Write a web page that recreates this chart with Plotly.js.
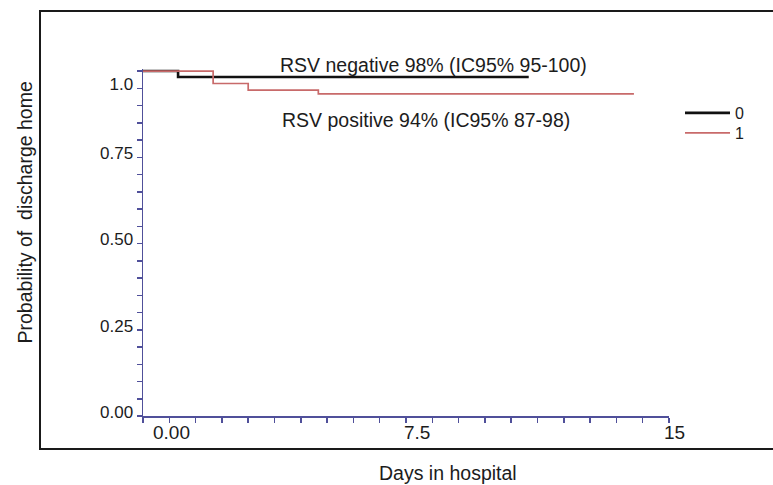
<!DOCTYPE html>
<html>
<head>
<meta charset="utf-8">
<script src="https://cdn.plot.ly/plotly-3.0.1.min.js"></script>
<style>html,body{margin:0;padding:0;background:#fff;}#chart{width:773px;height:485px;}</style>
</head>
<body>
<div id="chart"></div>
<script>
// ---- data ----
const group0Name = '0';                 // RSV negative
const group0Days = [0, 1, 11];
const group0Prob = [1.0, 0.983, 0.983];

const group1Name = '1';                 // RSV positive
const group1Days = [0, 2, 3, 5, 14];
const group1Prob = [1.0, 0.964, 0.945, 0.934, 0.934];

const yTickVals = [0, 0.25, 0.5, 0.75, 0.95];
const yTickText = ['0.00', '0.25', '0.50', '0.75', '1.0'];
const xTickVals = [0, 7.5, 15];
const xTickText = ['0.00', '7.5', '15'];

const noteNeg = 'RSV negative 98% (IC95% 95-100)';
const notePos = 'RSV positive 94% (IC95% 87-98)';
const xTitle = 'Days in hospital';
const yTitle = 'Probability of  discharge home';

// ---- layout / style ----
const W = 773, H = 485;
const M = {l: 143, r: 104, t: 69, b: 69};
const PW = W - M.l - M.r, PH = H - M.t - M.b;
const px = v => (v - M.l) / PW;          // pixel -> paper x
const py = v => (H - M.b - v) / PH;      // pixel -> paper y
const FONT = 'Arial, "Liberation Sans", sans-serif';
const TXT = '#1c1c1c';
const AXC = '#50509a';
const xLabelNudge = [28, 11, 5];

const traces = [
  {x: group0Days, y: group0Prob, name: group0Name, type: 'scatter', mode: 'lines', legend: 'legend',
   line: {shape: 'hv', color: '#111111', width: 2.6}},
  {x: group1Days, y: group1Prob, name: group1Name, type: 'scatter', mode: 'lines', legend: 'legend2',
   line: {shape: 'hv', color: '#c86a6a', width: 1.7}}
];

const noteFont = {family: FONT, size: 19.5, color: TXT};
const annotations = [
  {text: noteNeg, xref: 'paper', yref: 'paper', x: px(278), y: py(64.5), xanchor: 'left', yanchor: 'middle',
   showarrow: false, font: noteFont},
  {text: notePos, xref: 'paper', yref: 'paper', x: px(280), y: py(120), xanchor: 'left', yanchor: 'middle',
   showarrow: false, font: noteFont},
  {text: xTitle, xref: 'paper', yref: 'paper', x: px(447.5), y: py(473), xanchor: 'center', yanchor: 'middle',
   showarrow: false, font: noteFont},
  {text: yTitle, xref: 'paper', yref: 'paper', x: px(24), y: py(212.5), xanchor: 'center', yanchor: 'middle',
   textangle: -90, showarrow: false, font: noteFont}
];
xTickVals.forEach((v, i) => annotations.push({
  text: xTickText[i], xref: 'x', yref: 'paper', x: v, y: 0, xshift: xLabelNudge[i], yshift: -16.5,
  xanchor: 'center', yanchor: 'middle', showarrow: false,
  font: {family: FONT, size: 19, color: TXT}
}));

const legendStyle = {xanchor: 'left', yanchor: 'middle', itemwidth: 45,
  font: {family: FONT, size: 16, color: TXT}, bgcolor: 'rgba(0,0,0,0)'};

const layout = {
  width: W, height: H,
  margin: M,
  paper_bgcolor: '#ffffff', plot_bgcolor: '#ffffff',
  font: {family: FONT, color: TXT},
  showlegend: true,
  legend: Object.assign({x: px(680), y: py(113)}, legendStyle),
  legend2: Object.assign({x: px(680), y: py(133)}, legendStyle),
  xaxis: {range: [0, 15], showline: true, linecolor: AXC, linewidth: 1.5,
          ticks: 'outside', tickmode: 'linear', tick0: 0, dtick: 0.75, ticklen: 5, tickwidth: 1.5, tickcolor: AXC,
          showticklabels: false, showgrid: false, zeroline: false, fixedrange: true},
  yaxis: {range: [0, 1.006], showline: true, linecolor: AXC, linewidth: 1.5,
          ticks: 'outside', tickmode: 'array', tickvals: yTickVals, ticktext: yTickText,
          ticklen: 5, tickwidth: 1.5, tickcolor: AXC,
          minor: {ticks: 'outside', tickmode: 'linear', tick0: 0, dtick: 0.05, ticklen: 5, tickwidth: 1.5, tickcolor: AXC},
          tickfont: {family: FONT, size: 17, color: TXT}, ticklabelshift: -4, ticklabelstandoff: 0,
          showgrid: false, zeroline: false, fixedrange: true},
  shapes: [
    {type: 'rect', xref: 'paper', yref: 'paper', x0: px(40), x1: px(790), y0: py(449), y1: py(11),
     line: {color: '#1a1a1a', width: 2}, fillcolor: 'rgba(0,0,0,0)', layer: 'below'}
  ],
  annotations: annotations
};

Plotly.newPlot('chart', traces, layout, {displayModeBar: false, staticPlot: true});
</script>
</body>
</html>
